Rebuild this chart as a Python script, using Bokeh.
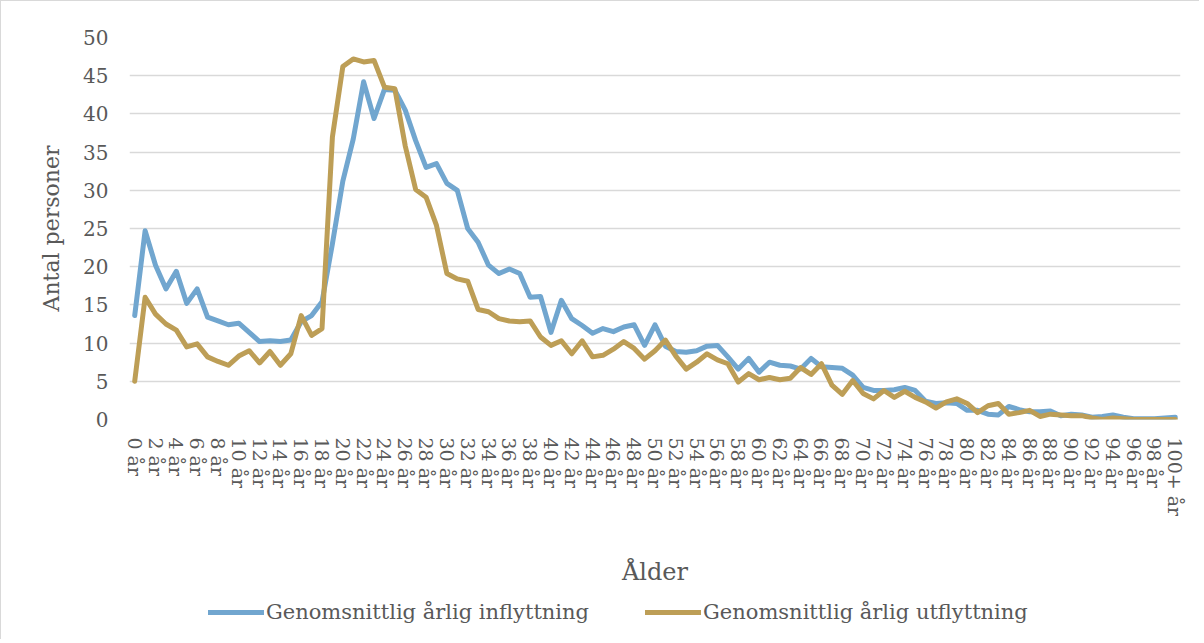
import math
from bokeh.plotting import figure
from bokeh.layouts import column
from bokeh.models import Range1d, FixedTicker, Legend, LegendItem, ColumnDataSource
from bokeh.embed import file_html
from bokeh.resources import INLINE

# ---- data ----
ages = [f"{i} år" for i in range(100)] + ["100+ år"]
positions = list(range(len(ages)))

inflyttning = [
    13.6, 24.7, 20.2, 17.1, 19.4, 15.2, 17.1, 13.4, 12.9, 12.4,
    12.6, 11.4, 10.2, 10.3, 10.2, 10.4, 12.8, 13.6, 15.4, 23.0,
    31.2, 36.7, 44.2, 39.4, 43.2, 43.1, 40.5, 36.5, 33.0, 33.5,
    30.9, 30.0, 25.0, 23.2, 20.2, 19.1, 19.7, 19.1, 16.0, 16.1,
    11.4, 15.6, 13.2, 12.3, 11.3, 11.9, 11.5, 12.1, 12.4, 9.7,
    12.4, 9.6, 8.9, 8.8, 9.0, 9.6, 9.7, 8.2, 6.6, 8.0,
    6.2, 7.5, 7.1, 7.0, 6.6, 8.0, 6.9, 6.8, 6.7, 5.8,
    4.2, 3.8, 3.8, 3.9, 4.2, 3.8, 2.4, 2.1, 2.2, 2.1,
    1.2, 1.2, 0.7, 0.6, 1.7, 1.3, 1.0, 1.0, 1.1, 0.5,
    0.7, 0.6, 0.3, 0.4, 0.6, 0.3, 0.1, 0.1, 0.1, 0.2,
    0.3,
]

utflyttning = [
    5.0, 16.0, 13.8, 12.5, 11.7, 9.5, 9.9, 8.2, 7.6, 7.1,
    8.3, 9.0, 7.4, 8.9, 7.1, 8.6, 13.6, 11.0, 11.9, 37.0,
    46.2, 47.2, 46.8, 47.0, 43.5, 43.3, 35.8, 30.1, 29.1, 25.4,
    19.1, 18.4, 18.1, 14.4, 14.1, 13.2, 12.9, 12.8, 12.9, 10.8,
    9.7, 10.3, 8.6, 10.3, 8.2, 8.4, 9.2, 10.2, 9.3, 7.9,
    9.0, 10.4, 8.3, 6.6, 7.5, 8.6, 7.8, 7.3, 4.9, 6.0,
    5.2, 5.5, 5.2, 5.4, 6.8, 5.9, 7.3, 4.5, 3.3, 5.1,
    3.4, 2.7, 3.8, 2.9, 3.7, 2.9, 2.3, 1.5, 2.3, 2.7,
    2.1, 0.9, 1.8, 2.1, 0.7, 0.9, 1.2, 0.4, 0.7, 0.6,
    0.5, 0.5, 0.2, 0.0, 0.2, 0.1, 0.0, 0.0, 0.0, 0.0,
    0.0,
]

y_ticks = [0, 5, 10, 15, 20, 25, 30, 35, 40, 45, 50]
series_names = ["Genomsnittlig årlig inflyttning", "Genomsnittlig årlig utflyttning"]
series_colors = ["#71a6cf", "#bd9e56"]

# ---- main figure ----
FONT = "DejaVu Serif"
TXT = "#595959"
BORDER = "1px solid #d9d9d9"
LW = 5

p = figure(
    width=1199, height=595,
    output_backend="svg", toolbar_location=None,
    x_range=Range1d(-0.5, 100.5), y_range=Range1d(0, 50),
    min_border_left=128, min_border_right=20,
    min_border_top=36, min_border_bottom=177,
)
p.styles = {"border-left": BORDER, "border-top": BORDER}
p.outline_line_color = None
p.background_fill_color = "white"
p.border_fill_color = "white"

src = ColumnDataSource(dict(x=positions, inn=inflyttning, ut=utflyttning))
p.line("x", "inn", source=src, line_color=series_colors[0], line_width=LW,
       line_join="round", line_cap="round")
p.line("x", "ut", source=src, line_color=series_colors[1], line_width=LW,
       line_join="round", line_cap="round")

p.xgrid.grid_line_color = None
p.ygrid.grid_line_color = "#d9d9d9"
p.ygrid.grid_line_width = 1.5

p.yaxis.ticker = FixedTicker(ticks=y_ticks)
p.yaxis.axis_line_color = None
p.yaxis.major_tick_line_color = None
p.yaxis.minor_tick_line_color = None
p.yaxis.major_label_standoff = 15
p.yaxis.major_label_text_font = FONT
p.yaxis.major_label_text_font_size = "20px"
p.yaxis.major_label_text_color = TXT
p.yaxis.axis_label = "Antal personer"
p.yaxis.axis_label_text_font = FONT
p.yaxis.axis_label_text_font_size = "22px"
p.yaxis.axis_label_text_font_style = "normal"
p.yaxis.axis_label_text_color = TXT
p.yaxis.axis_label_standoff = 16

even = positions[::2]
p.xaxis.ticker = FixedTicker(ticks=even)
p.xaxis.major_label_overrides = {i: ages[i] for i in even}
p.xaxis.major_label_orientation = -math.pi / 2
p.xaxis.axis_line_color = None
p.xaxis.major_tick_line_color = None
p.xaxis.minor_tick_line_color = None
p.xaxis.major_label_standoff = 12
p.xaxis.major_label_text_font = FONT
p.xaxis.major_label_text_font_size = "19px"
p.xaxis.major_label_text_color = TXT
p.xaxis.axis_label = "Ålder"
p.xaxis.axis_label_text_font = FONT
p.xaxis.axis_label_text_font_size = "24px"
p.xaxis.axis_label_text_font_style = "normal"
p.xaxis.axis_label_text_color = TXT
p.xaxis.axis_label_standoff = 39

# ---- legend strip (same series, kept out of its visible range) ----
lg = figure(
    width=1199, height=44,
    output_backend="svg", toolbar_location=None,
    x_range=Range1d(-0.5, 100.5), y_range=Range1d(1000, 1001),
    x_axis_type=None, y_axis_type=None, min_border=0,
)
lg.styles = {"border-left": BORDER}
lg.outline_line_color = None
lg.xgrid.grid_line_color = None
lg.ygrid.grid_line_color = None
k1 = lg.line("x", "inn", source=src, line_color=series_colors[0], line_width=LW,
             line_cap="round")
k2 = lg.line("x", "ut", source=src, line_color=series_colors[1], line_width=LW,
             line_cap="round")
legend = Legend(
    items=[LegendItem(label=series_names[0], renderers=[k1]),
           LegendItem(label=series_names[1], renderers=[k2])],
    location=(79, 15), orientation="horizontal",
    border_line_color=None, background_fill_alpha=0,
    padding=0, margin=0, spacing=56, glyph_width=56, glyph_height=22,
    label_standoff=2, label_text_font=FONT, label_text_font_size="21px",
    label_text_color=TXT,
)
lg.add_layout(legend)

layout = column(p, lg, spacing=0)

open("out.html", "w").write(file_html(layout, INLINE))
